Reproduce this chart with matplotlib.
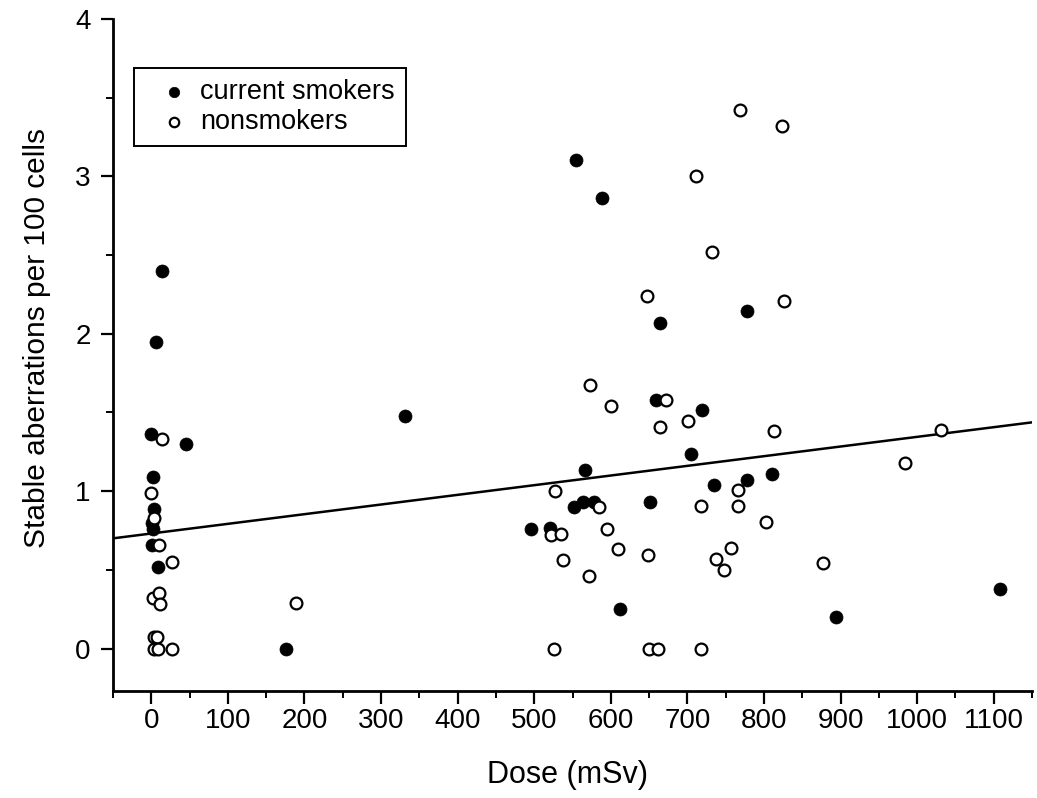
import matplotlib
matplotlib.use("Agg")
import matplotlib.pyplot as plt
from matplotlib.ticker import MultipleLocator

plt.rcParams['font.family'] = ['Liberation Sans', 'DejaVu Sans']

# Current smokers: dose (mSv), stable aberrations per 100 cells
smokers_x = [14, 5.7, -1, 45.8, 2.2, 3.5, 1.5, 2.5, 1.3, 9, 175.8, 331.8,
             555, 588.6, 664, 658.4, 566.4, 651.4, 552, 563.8, 577.8, 496.2,
             521, 611.4, 778.3, 719.4, 704.6, 811, 778.3, 734.7, 894.3, 1108.8]
smokers_y = [2.40, 1.95, 1.36, 1.30, 1.09, 0.887, 0.80, 0.76, 0.656, 0.52, 0.0, 1.48,
             3.105, 2.86, 2.068, 1.58, 1.132, 0.933, 0.90, 0.929, 0.929, 0.762,
             0.766, 0.254, 2.142, 1.513, 1.238, 1.109, 1.073, 1.039, 0.199, 0.379]

# Nonsmokers
non_x = [13.6, 0, 4, 10, 27.5, 2, 10, 11.4, 3, 8, 3, 9, 27, 188.9,
         646.7, 573.4, 671.5, 600, 664.5, 527, 584.7, 522.4, 534.6, 595.2,
         609, 648, 537.2, 571.2, 526.3, 649.7, 661, 768.7, 824, 710.8, 732.5,
         826.7, 701, 813.6, 765.7, 717.7, 766.1, 802.7, 756.6, 737, 747.8,
         876.9, 717.3, 1031.3, 984.6]
non_y = [1.33, 0.99, 0.83, 0.656, 0.55, 0.32, 0.355, 0.28, 0.075, 0.075, 0.0, 0.0, 0.0, 0.286,
         2.237, 1.676, 1.577, 1.543, 1.407, 0.999, 0.90, 0.724, 0.728, 0.762,
         0.63, 0.597, 0.561, 0.459, 0.0, 0.0, 0.0, 3.422, 3.323, 3.003, 2.519,
         2.211, 1.443, 1.38, 1.005, 0.904, 0.908, 0.804, 0.639, 0.571, 0.502,
         0.542, 0.0, 1.39, 1.179]

# Regression line end points
fit_x = [-50, 1150]
fit_y = [0.70, 1.437]

xticks = list(range(0, 1101, 100))
yticks = [0, 1, 2, 3, 4]

fig = plt.figure(figsize=(10.37, 7.98), dpi=100)
ax = fig.add_axes([113/1037, 1-691/798, 919/1037, 672/798])

ax.plot(fit_x, fit_y, color='black', lw=1.8, zorder=2)
ax.scatter(smokers_x, smokers_y, s=88, c='black', edgecolors='black', linewidths=0.5,
           zorder=3, label='current smokers')
ax.scatter(non_x, non_y, s=72, facecolors='white', edgecolors='black', linewidths=1.6,
           zorder=4, label='nonsmokers')

ax.set_xlim(-50, 1150)
ax.set_ylim(-0.27, 4.0)
ax.set_xticks(xticks)
ax.set_yticks(yticks)
ax.xaxis.set_minor_locator(MultipleLocator(50))
ax.yaxis.set_minor_locator(MultipleLocator(0.5))

for s in ['top', 'right']:
    ax.spines[s].set_visible(False)
for s in ['left', 'bottom']:
    ax.spines[s].set_linewidth(2.0)

ax.tick_params(axis='both', which='major', direction='out', length=9, width=1.6,
               labelsize=20, colors='black')
ax.tick_params(axis='both', which='minor', direction='out', length=5, width=1.4)
ax.tick_params(axis='x', which='major', pad=3)
ax.tick_params(axis='y', which='major', pad=7)

ax.set_xlabel('Dose (mSv)', fontsize=22)
ax.set_ylabel('Stable aberrations per 100 cells', fontsize=21.5)
ax.xaxis.set_label_coords(0.495, -0.103)
ax.yaxis.set_label_coords(-0.068, 0.525)

leg = ax.legend(loc='upper left', bbox_to_anchor=(0.0229, 0.927), borderaxespad=0,
                fontsize=19.5, frameon=True, fancybox=False, edgecolor='black',
                handletextpad=-0.1, handlelength=2.15, borderpad=0.4,
                labelspacing=0.15, markerscale=0.8)
leg.get_frame().set_linewidth(1.4)
leg.get_frame().set_alpha(1)

fig.savefig('out.png', dpi=100, facecolor='white')
